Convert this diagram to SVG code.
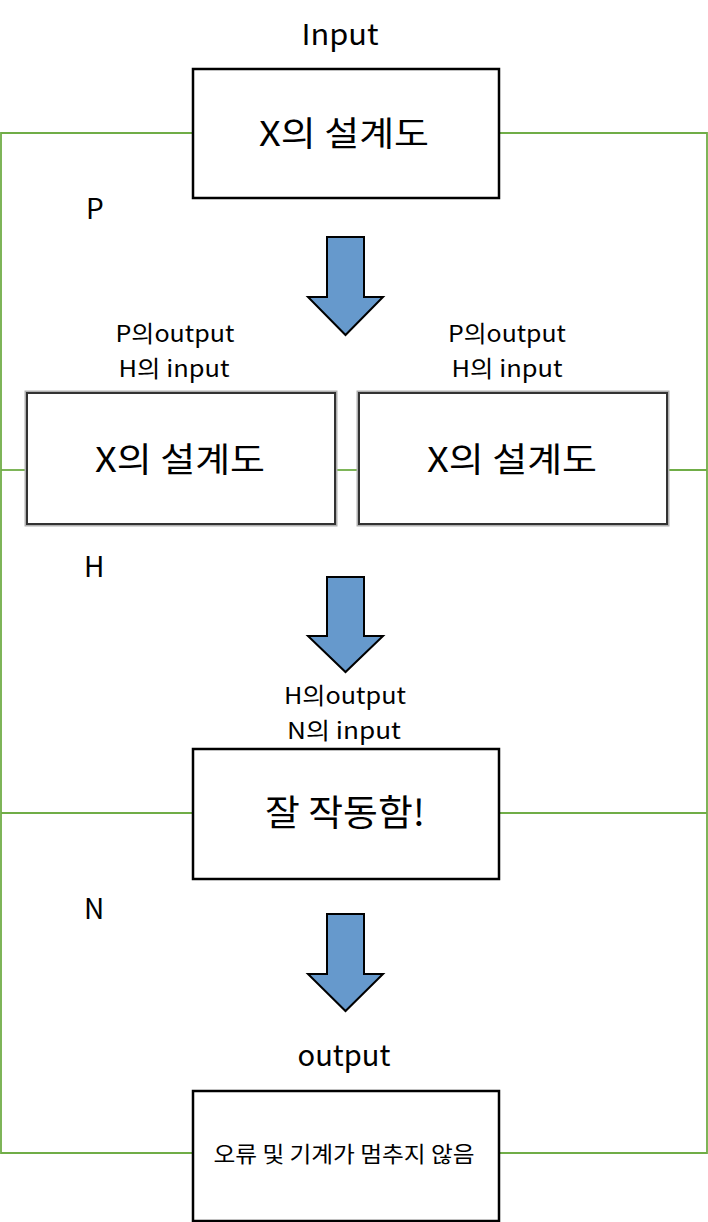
<svg xmlns="http://www.w3.org/2000/svg" width="708" height="1222" viewBox="0 0 708 1222">
<style>
.box{fill:#fff;stroke:#000;stroke-width:2.5}
.sbox{fill:#fff;stroke:#333;stroke-width:2}
.glow{fill:none;stroke:#b0b0b0;stroke-width:5}
.conn{fill:none;stroke:#70AD47;stroke-width:1.8}
.arrow{fill:#6699CC;stroke:#000;stroke-width:2;stroke-linejoin:miter}
text{font-family:"Noto Sans CJK KR","Noto Sans",sans-serif;fill:#000;text-anchor:middle}
.t34{font-size:34px}
.t28{font-size:29px}
.t22{font-size:23px}
.tl{text-anchor:start;font-size:28px}
</style>
<g id="connectors">
<polyline class="conn" points="193,133 1,133 1,1153 193,1153"/>
<polyline class="conn" points="499,133 707,133 707,1153 499,1153"/>
<line class="conn" x1="1" y1="470" x2="27" y2="470"/>
<line class="conn" x1="335" y1="470" x2="359" y2="470"/>
<line class="conn" x1="667" y1="470" x2="707" y2="470"/>
<line class="conn" x1="1" y1="813" x2="193" y2="813"/>
<line class="conn" x1="499" y1="813" x2="707" y2="813"/>
</g>
<g id="arrows">
<polygon class="arrow" points="327,237 364,237 364,297 383,297 345.5,335 308,297 327,297"/>
<polygon class="arrow" points="327,577 364,577 364,636 383,636 345.5,672 308,636 327,636"/>
<polygon class="arrow" points="327,914 364,914 364,974 383,974 345.5,1011 308,974 327,974"/>
</g>
<g id="labels">
<text class="t28" x="340" y="45" textLength="77" lengthAdjust="spacingAndGlyphs">Input</text>
<text class="tl" x="86" y="219">P</text>
<text class="tl" x="84" y="577">H</text>
<text class="tl" x="84" y="919">N</text>
<text class="t22" x="175" y="342" textLength="119" lengthAdjust="spacingAndGlyphs">P의output</text>
<text class="t22" x="174" y="377" textLength="111" lengthAdjust="spacingAndGlyphs">H의 input</text>
<text class="t22" x="507" y="342" textLength="118" lengthAdjust="spacingAndGlyphs">P의output</text>
<text class="t22" x="507" y="377" textLength="111" lengthAdjust="spacingAndGlyphs">H의 input</text>
<text class="t22" x="345" y="704" textLength="122" lengthAdjust="spacingAndGlyphs">H의output</text>
<text class="t22" x="344" y="739" textLength="114" lengthAdjust="spacingAndGlyphs">N의 input</text>
<text class="t28" x="344" y="1066" textLength="93" lengthAdjust="spacingAndGlyphs">output</text>
</g>
<g id="node-p">
<rect class="box" x="193" y="69" width="306" height="129"/>
<text class="t34" x="344" y="146" textLength="170" lengthAdjust="spacingAndGlyphs">X의 설계도</text>
</g>
<g id="node-h1">
<rect class="glow" x="27" y="393" width="308" height="131"/>
<rect class="sbox" x="27" y="393" width="308" height="131"/>
<text class="t34" x="180" y="472" textLength="170" lengthAdjust="spacingAndGlyphs">X의 설계도</text>
</g>
<g id="node-h2">
<rect class="glow" x="359" y="393" width="308" height="131"/>
<rect class="sbox" x="359" y="393" width="308" height="131"/>
<text class="t34" x="512" y="472" textLength="170" lengthAdjust="spacingAndGlyphs">X의 설계도</text>
</g>
<g id="node-n">
<rect class="box" x="193" y="749" width="306" height="130"/>
<text x="345" y="826" style="font-size:36px" textLength="160" lengthAdjust="spacingAndGlyphs">잘 작동함!</text>
</g>
<g id="node-out">
<rect class="box" x="193" y="1091" width="306" height="130"/>
<text x="344" y="1162" style="font-size:22px" textLength="261" lengthAdjust="spacingAndGlyphs">오류 및 기계가 멈추지 않음</text>
</g>
</svg>
